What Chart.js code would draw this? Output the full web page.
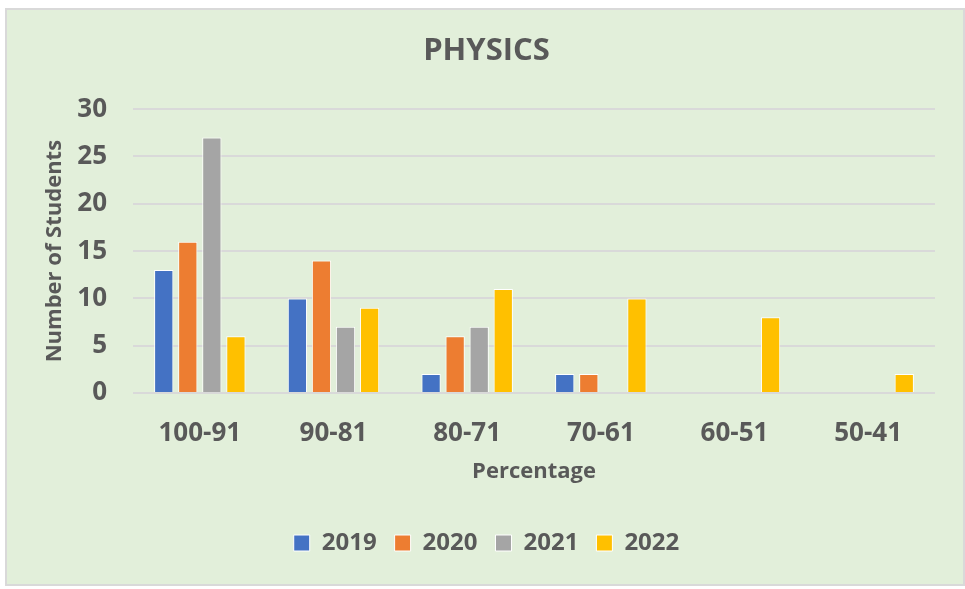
<!DOCTYPE html>
<html>
<head>
    <title>Physics</title>
    <style>
        body { margin: 0; background: #ffffff; }
        .frame {
            position: absolute;
            left: 5px;
            top: 8px;
            width: 956px;
            height: 574px;
            border: 2px solid #d9d9d9;
            background: #e2efda;
        }
        .frame canvas { display: block; }
    </style>
    <script src="https://cdn.jsdelivr.net/npm/chart.js"></script>
</head>
<body>
    <div class="frame">
        <canvas id="chart" width="956" height="574"></canvas>
    </div>

    <script>
        // Chart data
        const categories = ['100-91', '90-81', '80-71', '70-61', '60-51', '50-41'];
        const years = ['2019', '2020', '2021', '2022'];
        const values2019 = [13, 10, 2, 2, 0, 0];
        const values2020 = [16, 14, 6, 2, 0, 0];
        const values2021 = [27, 7, 7, 0, 0, 0];
        const values2022 = [6, 9, 11, 10, 8, 2];
        const colors = ['#4472c4', '#ed7d31', '#a5a5a5', '#ffc000'];

        const textColor = '#595959';
        const fontFamily = '"Open Sans", "Liberation Sans", sans-serif';

        const ctx = document.getElementById('chart').getContext('2d');
        new Chart(ctx, {
            type: 'bar',
            data: {
                labels: categories,
                datasets: [values2019, values2020, values2021, values2022].map((vals, i) => ({
                    label: years[i],
                    data: vals,
                    backgroundColor: colors[i],
                    borderColor: '#ffffff',
                    borderWidth: 1,
                    barPercentage: 0.8,
                    categoryPercentage: 0.72
                }))
            },
            options: {
                responsive: false,
                animation: false,
                layout: { padding: { left: 31, right: 28, top: 10, bottom: 19 } },
                plugins: {
                    title: {
                        display: true,
                        text: 'PHYSICS',
                        color: textColor,
                        font: { family: fontFamily, size: 31, weight: 'bold' },
                        padding: { top: 13, bottom: 39 }
                    },
                    legend: {
                        position: 'bottom',
                        labels: {
                            color: textColor,
                            font: { family: fontFamily, size: 24, weight: 'bold' },
                            boxWidth: 16,
                            boxHeight: 16,
                            padding: 18
                        }
                    },
                    tooltip: { enabled: false }
                },
                scales: {
                    x: {
                        grid: { display: false },
                        border: { display: false },
                        ticks: {
                            color: textColor,
                            font: { family: fontFamily, size: 26, weight: 'bold' },
                            padding: 17
                        },
                        title: {
                            display: true,
                            text: 'Percentage',
                            color: textColor,
                            font: { family: fontFamily, size: 22, weight: 'bold' },
                            padding: { top: 10, bottom: 28 }
                        },
                        afterFit: (scale) => { scale.height = 120; }
                    },
                    y: {
                        min: 0,
                        max: 30,
                        ticks: {
                            stepSize: 5,
                            color: textColor,
                            font: { family: fontFamily, size: 26, weight: 'bold' },
                            padding: 26
                        },
                        grid: { color: '#d9d9d9', lineWidth: 2, drawTicks: false },
                        border: { display: false },
                        title: {
                            display: true,
                            text: 'Number of Students',
                            color: textColor,
                            font: { family: fontFamily, size: 22, weight: 'bold' },
                            padding: { top: 4, bottom: 0 }
                        },
                        afterFit: (scale) => { scale.width = 95; }
                    }
                }
            }
        });
    </script>
</body>
</html>
